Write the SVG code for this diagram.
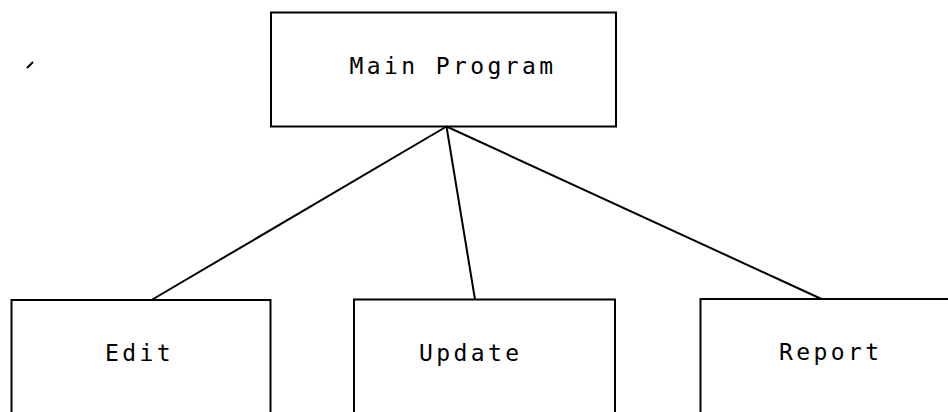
<svg xmlns="http://www.w3.org/2000/svg" width="948" height="412" viewBox="0 0 948 412">
  <style>
    .box { fill: none; stroke: #000; stroke-width: 2; }
    .link { fill: none; stroke: #000; stroke-width: 2; }
    .label { font-family: "DejaVu Sans Mono", "Liberation Mono", monospace; font-size: 23px; letter-spacing: 3.4px; fill: #000; }
  </style>
  <rect width="948" height="412" fill="#fff"/>

  <!-- stray pen mark -->
  <line x1="27" y1="68" x2="33" y2="62" stroke="#000" stroke-width="2"/>

  <g id="connectors">
    <line class="link" x1="446.5" y1="126.5" x2="151.5" y2="300"/>
    <line class="link" x1="446.5" y1="126.5" x2="475" y2="299.5"/>
    <line class="link" x1="446.5" y1="126.5" x2="821.5" y2="299"/>
  </g>

  <g id="main-program">
    <rect class="box" x="271" y="12.5" width="345" height="114"/>
    <text class="label" x="349.5" y="74">Main Program</text>
  </g>

  <g id="edit">
    <rect class="box" x="11.5" y="300" width="259" height="130"/>
    <text class="label" x="105" y="361">Edit</text>
  </g>

  <g id="update">
    <rect class="box" x="354" y="299.5" width="261" height="130"/>
    <text class="label" x="419" y="361">Update</text>
  </g>

  <g id="report">
    <rect class="box" x="700.5" y="299" width="270" height="130"/>
    <text class="label" x="779" y="360">Report</text>
  </g>
</svg>
